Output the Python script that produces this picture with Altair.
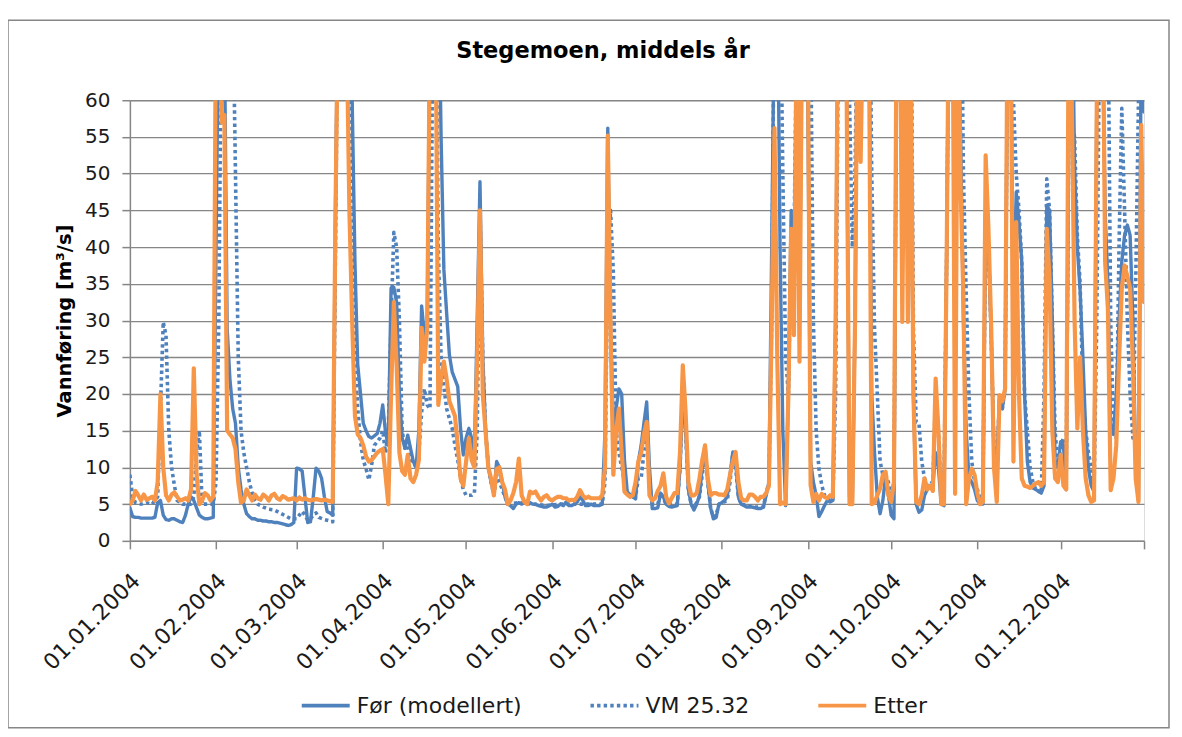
import altair as alt
import pandas as pd

START = "2004-01-01"
SERIES = ["Før (modellert)", "VM 25.32", "Etter"]
COLORS = ["#4F81BD", "#4F81BD", "#F79646"]

# daily values, day 0 = 01.01.2004 ... day 365 = 31.12.2004
etter = [
    5.0, 5.5, 6.8, 6.2, 5.5, 6.3, 5.6, 5.8, 6.0, 5.5,
    8, 20, 10, 6.2, 5.5, 6.3, 6.6, 6.0, 5.5, 5.6,
    5.8, 5.5, 7, 23.5, 9, 5.0, 5.5, 6.5, 6.2, 5.5,
    6.0, 75, 80, 57, 58, 15, 14.5, 14, 12.5, 8,
    5.2, 5.5, 7.0, 6.2, 5.5, 6.3, 5.8, 5.6, 6.3, 6.0,
    5.5, 6.2, 6.4, 5.8, 5.6, 6.1, 5.9, 5.6, 5.7, 5.8,
    5.5, 5.9, 5.6, 5.8, 5.6, 5.5, 5.6, 5.7, 5.6, 5.5,
    5.6, 5.5, 5.4, 5.3, 45, 75, 85, 85, 70, 45,
    30, 17, 14.5, 14, 13, 11.5, 10.8, 11, 11.5, 12,
    12.3, 12.5, 9, 5.0, 20, 32.5, 24, 12, 9.5, 9,
    11.7, 8.5, 8, 9, 11, 29, 24.4, 29, 70, 80,
    75, 18.5, 22, 24.4, 22, 19, 18, 17, 13, 8.5,
    7.5, 10.8, 14, 11, 10, 25, 45, 20, 15, 10,
    8.5, 6.2, 9.8, 10, 8, 7, 5, 5.5, 6.5, 8,
    11.2, 6.2, 5.3, 5.0, 6.7, 6.5, 6.7, 6.0, 5.5, 6.0,
    6.2, 5.7, 5.5, 5.8, 6.0, 6.0, 5.8, 5.8, 5.5, 5.6,
    5.5, 6.0, 6.9, 6.2, 5.8, 6.0, 5.8, 5.8, 5.8, 5.8,
    6.2, 10, 55.2, 29, 9, 15, 18, 12, 6.7, 6.3,
    6.0, 6.2, 8, 10.8, 12, 14.5, 16.2, 6.2, 5.5, 5.8,
    6.8, 7.5, 9.2, 6, 5.1, 5.8, 6.5, 6.5, 12, 23.9,
    17.6, 8, 6.2, 6.2, 6.5, 8.5, 11, 13, 8.5, 6.2,
    6.5, 6.5, 6.3, 6.3, 6.2, 7, 9, 10.8, 12.1, 8,
    5.8, 5.5, 5.5, 6.3, 6.3, 6.0, 5.5, 6.0, 6.0, 6.5,
    7.5, 30, 56.2, 25, 5.0, 5.2, 5.0, 20, 42.5, 28,
    70, 24.4, 75, 80, 70, 7.6, 5.3, 6.4, 5.5, 6.4,
    6.0, 5.8, 6.2, 6.0, 30, 80, 85, 80, 60, 5.0,
    5.0, 30, 80, 51.6, 75, 80, 70, 5.0, 5.2, 6.2,
    7.1, 9, 9.4, 6.2, 5.3, 8, 75, 85, 29.8, 75,
    29.8, 70, 20, 5.3, 5.0, 6.2, 8.5, 7.0, 7.5, 6.8,
    22.1, 15, 5.0, 5.0, 40, 85, 85, 6.4, 75, 48,
    33, 5.0, 8.5, 9.8, 9.0, 6.5, 5.0, 5.3, 52.5, 42.5,
    29, 10, 5.3, 19.8, 19, 20.7, 80, 75, 10.8, 43.4,
    20, 8.5, 7.5, 7.4, 7.2, 7.5, 7.8, 8, 7.5, 8,
    42.5, 35.7, 15, 8.5, 8, 11.7, 7.5, 7, 80, 60,
    30.2, 15.3, 25, 15, 8.5, 6.2, 5.3, 5.5, 60, 85,
    80, 38, 31.6, 6.9, 8.5, 13, 24.4, 34.4, 37.5, 36,
    34.4, 24, 8.5, 5.3, 56.6, 32.5,
]

foer = [
    4.5, 3.3, 3.2, 3.2, 3.1, 3.1, 3.1, 3.1, 3.1, 3.2,
    5.2, 5.5, 3.5, 2.9, 2.8, 3.0, 3.0, 2.8, 2.6, 2.5,
    3.5, 5, 6, 5.5, 4.5, 3.5, 3.2, 3.0, 3.0, 3.1,
    3.2, 40, 75, 80, 70, 29, 22, 18, 16, 10,
    7, 5, 3.7, 3.3, 3.0, 3.0, 2.8, 2.8, 2.7, 2.7,
    2.6, 2.6, 2.5, 2.5, 2.4, 2.3, 2.2, 2.1, 2.2, 2.5,
    9.9, 9.8, 9.5, 6, 2.5, 2.6, 6, 9.9, 9.5, 8.5,
    6, 4, 3.8, 3.5, 45, 80, 85, 85, 85, 75,
    60, 38, 24, 20, 16, 15, 14.2, 14.0, 14.3, 14.6,
    16, 18.5, 14.8, 13, 34.4, 34.5, 32.5, 20, 14, 12.6,
    14.4, 12.6, 10.8, 10, 15, 32, 28, 29, 70, 85,
    85, 80, 55, 37, 31, 25.3, 23, 22, 21, 15.3,
    11.7, 14, 15.3, 14, 12, 30, 48.9, 25, 15.3, 10,
    8, 6.5, 10.8, 10, 8, 6, 5, 4.8, 4.4, 5,
    5.2, 5.0, 5.2, 5.0, 5.2, 5.0, 5.0, 4.8, 4.7, 4.6,
    4.6, 4.8, 5.0, 4.6, 4.7, 5.0, 4.8, 5.3, 4.8, 4.8,
    5.0, 5.3, 6.0, 5.5, 4.8, 4.8, 5.0, 4.8, 4.8, 4.8,
    5.0, 15, 56.2, 29, 15.3, 18, 20.7, 20, 11, 6.7,
    6.3, 6.0, 5.7, 10.8, 13, 16, 18.9, 10, 4.4, 4.4,
    4.5, 6.5, 6.0, 5.0, 4.7, 4.6, 4.7, 4.8, 10, 20,
    15.3, 7, 5.0, 4.2, 5.0, 6.2, 10, 13, 8, 4.5,
    3.0, 3.2, 5.0, 5.2, 5.5, 6, 9, 12.1, 11, 6,
    5.0, 4.8, 4.6, 4.6, 4.6, 4.5, 4.4, 4.4, 4.6, 6.2,
    8, 40, 75, 80, 40, 15, 4.8, 20, 45, 30,
    70, 30, 75, 80, 60, 10.8, 8, 6.2, 3.3, 4.0,
    4.8, 5.5, 5.3, 5.5, 30, 80, 85, 80, 60, 6,
    5, 30, 80, 60, 80, 85, 75, 20, 12, 6,
    3.7, 5.5, 8.8, 6.2, 3.5, 3.0, 70, 85, 50, 80,
    60, 60, 20, 5, 3.9, 4.2, 6.2, 7, 7.5, 7.5,
    12, 10, 5.0, 4.8, 40, 85, 85, 60, 70, 55,
    30, 15, 8.5, 8.0, 7.0, 5.5, 5.0, 5.0, 45, 40,
    28, 12, 10, 19.8, 18, 20.7, 75, 70, 30, 47.5,
    43.4, 38, 20, 10.8, 8, 7.2, 7.0, 6.8, 6.5, 7.5,
    45.7, 45, 30, 10.8, 10, 13.5, 13, 7, 60, 80,
    51.1, 40, 34, 25, 15, 9.8, 7.5, 6.7, 60, 85,
    70, 44.8, 35, 15, 14.5, 20, 30, 38, 41.6, 43,
    41.6, 30, 10, 5.5, 70, 58.4,
]

# VM 25.32 read as vertices (day, value)
vm_days = [
    0, 1, 2, 4, 6, 8, 10, 11, 12, 13, 14, 15, 16, 17, 19, 22, 23, 24, 25, 26,
    30, 31, 32, 33, 35, 37, 38, 39, 40, 41, 42, 43, 44, 45, 46, 48, 50, 52, 54, 56,
    58, 60, 61, 62, 63, 64, 65, 66, 67, 68, 70, 72, 73, 74, 75, 78, 79, 80, 81, 82,
    83, 84, 85, 86, 87, 88, 90, 91, 92, 93, 94, 95, 96, 97, 98, 99, 100, 101, 102, 103,
    104, 105, 106, 107, 108, 109, 110, 111, 112, 113, 114, 116, 117, 118, 119, 120, 121, 123, 124, 125,
    126, 127, 128, 129, 130, 131, 132, 133, 134, 135, 136, 140, 145, 150, 155, 160, 165, 170, 171, 172,
    173, 174, 175, 176, 177, 178, 179, 181, 182, 183, 184, 185, 186, 187, 188, 190, 191, 193, 197, 198,
    199, 200, 201, 202, 203, 205, 206, 207, 208, 209, 210, 211, 212, 215, 216, 217, 218, 219, 220, 225,
    228, 229, 230, 231, 232, 234, 235, 236, 237, 238, 239, 240, 241, 242, 243, 245, 246, 247, 248, 249,
    250, 252, 253, 254, 255, 258, 259, 260, 261, 262, 266, 267, 268, 269, 270, 271, 272, 273, 274, 275,
    276, 281, 282, 283, 284, 285, 286, 287, 289, 290, 291, 292, 293, 294, 295, 299, 300, 301, 302, 303,
    304, 305, 306, 307, 308, 309, 310, 311, 312, 313, 314, 315, 316, 318, 319, 320, 321, 322, 323, 324,
    325, 326, 328, 329, 330, 331, 332, 333, 334, 335, 336, 337, 338, 340, 341, 342, 343, 344, 345, 346,
    347, 348, 349, 350, 351, 352, 353, 354, 355, 356, 357, 358, 359, 360, 361, 362, 363, 364, 365,
]
vm_vals = [
    9, 6, 5.2, 5.0, 5.2, 5.0, 6, 18, 29.8, 28, 15, 10, 7.6, 5.5, 5.0, 5.0, 6, 12, 15, 5.0,
    5.0, 8, 30, 75, 85, 75, 50, 25, 15, 12, 10, 8, 6.5, 5.5, 5.0, 4.6, 4.3, 4.2, 3.8, 3.4,
    3.0, 3.0, 3.5, 4.0, 3.5, 2.8, 3.0, 3.5, 3.8, 3.2, 2.9, 2.7, 2.6, 40, 80, 80, 60, 40, 25, 18,
    13.5, 11, 9.8, 8.3, 10.3, 13, 14, 15, 12, 15, 30, 42, 40, 30, 15, 12.6, 13, 11, 10.8, 10,
    12, 17.5, 20.7, 18.5, 18, 70, 85, 40, 25, 21, 18, 15.3, 13, 11, 8.5, 7, 6.2, 6.2, 6.5, 15,
    45, 25, 15, 10, 8, 6.2, 9, 8, 7, 6, 5, 5.2, 5.0, 4.8, 5.0, 5.0, 5.0, 5.0, 8, 40,
    45, 36.6, 15, 12, 10, 8, 6.5, 6.0, 6.0, 8.5, 8.5, 12, 15, 8, 5.0, 5.0, 6.5, 5.0, 5.0, 10,
    20, 15, 7, 5.0, 4.5, 6, 9, 12, 8, 4.5, 3.2, 3.5, 5, 5.5, 8, 12, 10, 6, 5.0, 4.6,
    4.6, 6.5, 8, 30, 80, 80, 50, 25, 20, 40, 40, 70, 50, 70, 85, 70, 30, 15, 9.8, 7.6,
    6.2, 5.5, 5.5, 20, 70, 85, 60, 40, 50, 80, 85, 50, 29, 20, 10.8, 9, 9, 8, 6, 8,
    70, 85, 29, 16.2, 16, 10.8, 8.5, 7.5, 8, 20, 15, 6, 7, 40, 85, 85, 50, 33.4, 19.8, 10.8,
    8, 7, 6, 6, 45, 40, 28, 12, 10, 19.8, 18, 20.7, 75, 60, 50, 45, 38, 20, 15, 10,
    8, 7, 6.5, 20, 49.3, 45, 30, 15, 10, 13, 14, 10, 60, 55, 41.6, 35, 20, 15, 12, 10,
    6.7, 30, 70, 85, 85, 75, 30, 15.3, 14, 40, 58.9, 45, 30, 20, 14, 35, 60, 85, 80,
]

y_ticks = list(range(0, 61, 5))
month_starts = [1, 2, 3, 4, 5, 6, 7, 8, 9, 10, 11, 12]

base = pd.Timestamp(START)


def frame(days, vals, name):
    return pd.DataFrame({
        "dato": [base + pd.Timedelta(days=int(d)) for d in days],
        "verdi": vals,
        "serie": name,
    })


df = pd.concat([
    frame(range(len(foer)), foer, SERIES[0]),
    frame(vm_days, vm_vals, SERIES[1]),
    frame(range(len(etter)), etter, SERIES[2]),
], ignore_index=True)

FONT = "DejaVu Sans"
GRAY = "#868686"
TXT = "#1a1a1a"

tick_dates = [alt.DateTime(year=2004, month=m, date=1) for m in month_starts]
tick_dates.append(alt.DateTime(year=2004, month=12, date=31))

x_enc = alt.X(
    "dato:T",
    scale=alt.Scale(domain=[alt.DateTime(year=2004, month=1, date=1),
                            alt.DateTime(year=2004, month=12, date=31)]),
    axis=alt.Axis(
        values=tick_dates,
        format="%d.%m.%Y", labelExpr="date(datum.value) == 31 ? '' : datum.label",
        labelAngle=-45, labelAlign="right", labelBaseline="middle",
        labelFontSize=22, labelFont=FONT, labelColor=TXT, labelPadding=28, labelOffset=6,
        tickSize=8, tickColor=GRAY, domainColor=GRAY, domainWidth=1.5, tickWidth=1.5,
        grid=False, title=None, labelOverlap=False,
    ),
)
y_enc = alt.Y(
    "verdi:Q",
    scale=alt.Scale(domain=[0, 60], nice=False),
    axis=alt.Axis(
        values=y_ticks, title="Vannføring [m³/s]", titleFont=FONT, titleFontSize=19.5,
        titleFontWeight="bold", titleColor="#000000", titlePadding=10,
        labelFont=FONT, labelFontSize=20, labelColor=TXT, labelPadding=12,
        tickSize=8, tickColor=GRAY, tickWidth=1.5, domainColor=GRAY, domainWidth=1.5,
        gridColor=GRAY, gridWidth=1.3,
    ),
)
legend_def = alt.Legend(
    title=None, orient="none", direction="horizontal", legendX=170, legendY=580,
    symbolType="stroke", symbolSize=2304, symbolStrokeWidth=3.8,
    labelFont=FONT, labelFontSize=22, labelColor=TXT, labelOffset=5, labelLimit=400,
    columnPadding=60,
)
color_enc = alt.Color("serie:N", scale=alt.Scale(domain=SERIES, range=COLORS), legend=legend_def)
dash_enc = alt.StrokeDash(
    "serie:N", scale=alt.Scale(domain=SERIES, range=[[1, 0], [3.4, 3.2], [1, 0]]),
    legend=legend_def,
)

styles = [(3.4, "round"), (3.6, "butt"), (4.2, "round")]
layers = []
for name, (w, cap) in zip(SERIES, styles):
    layers.append(
        alt.Chart(df).transform_filter(alt.datum.serie == name)
        .mark_line(clip=True, strokeWidth=w, strokeCap=cap, strokeJoin="round")
        .encode(x=x_enc, y=y_enc, color=color_enc, strokeDash=dash_enc)
    )

border = alt.Chart(pd.DataFrame({"k": [0]})).mark_rect(
    fill=None, stroke=GRAY, strokeWidth=1.5, clip=False
).encode(x=alt.value(-122), x2=alt.value(1040), y=alt.value(-80), y2=alt.value(628))

chart = alt.layer(border, *layers).properties(
    width=1015, height=441,
    autosize=alt.AutoSizeParams(type="none"),
    padding={"left": 122, "top": 92, "right": 30, "bottom": 188},
    title=alt.Title("Stegemoen, middels år", font=FONT, fontSize=22.5, fontWeight="bold",
                    color="#000000", anchor="middle", offset=0, dy=43, dx=-34),
).configure_view(stroke=None).configure(background="white")

chart.save("out.html", embed_options={"renderer": "svg", "actions": False})
